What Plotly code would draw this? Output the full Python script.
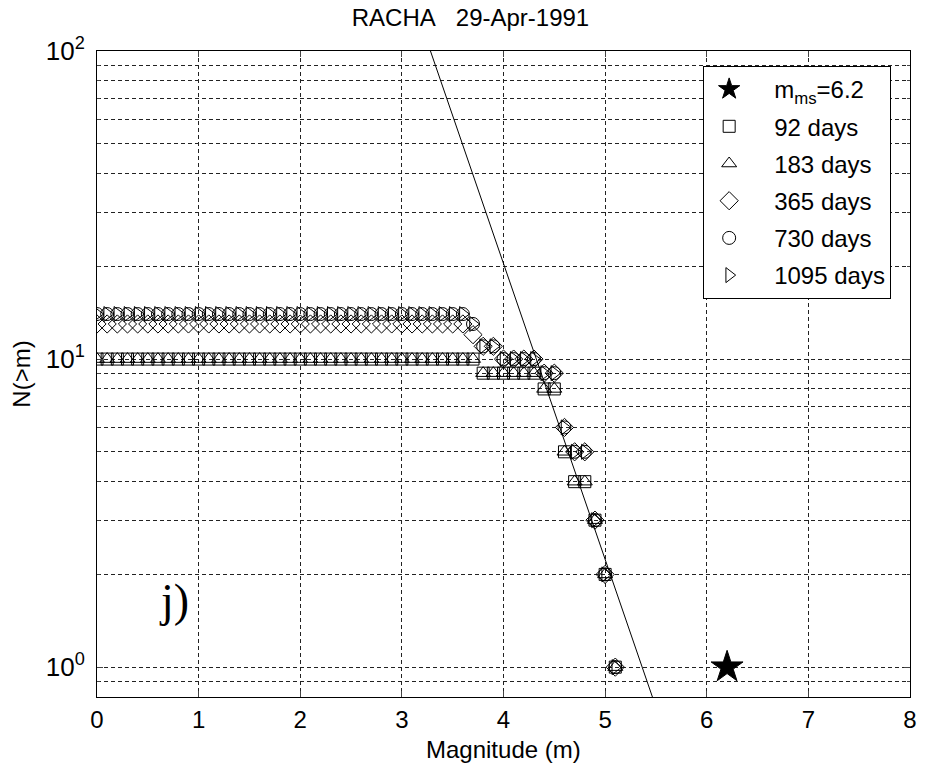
import math
import plotly.graph_objects as go

# ---------------- data ----------------
magnitude = [0.0, 0.1, 0.2, 0.3, 0.4, 0.5, 0.6, 0.7, 0.8, 0.9,
             1.0, 1.1, 1.2, 1.3, 1.4, 1.5, 1.6, 1.7, 1.8, 1.9,
             2.0, 2.1, 2.2, 2.3, 2.4, 2.5, 2.6, 2.7, 2.8, 2.9,
             3.0, 3.1, 3.2, 3.3, 3.4, 3.5, 3.6, 3.7, 3.8, 3.9,
             4.0, 4.1, 4.2, 4.3, 4.4, 4.5, 4.6, 4.7, 4.8, 4.9,
             5.0, 5.1]

n_92 = [10, 10, 10, 10, 10, 10, 10, 10, 10, 10,
        10, 10, 10, 10, 10, 10, 10, 10, 10, 10,
        10, 10, 10, 10, 10, 10, 10, 10, 10, 10,
        10, 10, 10, 10, 10, 10, 10, 10, 9, 9,
        9, 9, 9, 9, 8, 8, 5, 4, 4, 3,
        2, 1]

n_183 = [10, 10, 10, 10, 10, 10, 10, 10, 10, 10,
         10, 10, 10, 10, 10, 10, 10, 10, 10, 10,
         10, 10, 10, 10, 10, 10, 10, 10, 10, 10,
         10, 10, 10, 10, 10, 10, 10, 10, 9, 9,
         9, 9, 9, 9, 8, 8, 5, 4, 4, 3,
         2, 1]

n_365 = [13, 13, 13, 13, 13, 13, 13, 13, 13, 13,
         13, 13, 13, 13, 13, 13, 13, 13, 13, 13,
         13, 13, 13, 13, 13, 13, 13, 13, 13, 13,
         13, 13, 13, 13, 13, 13, 13, 12, 11, 11,
         10, 10, 10, 10, 9, 9, 6, 5, 5, 3,
         2, 1]

n_730 = [14, 14, 14, 14, 14, 14, 14, 14, 14, 14,
         14, 14, 14, 14, 14, 14, 14, 14, 14, 14,
         14, 14, 14, 14, 14, 14, 14, 14, 14, 14,
         14, 14, 14, 14, 14, 14, 14, 13, 11, 11,
         10, 10, 10, 10, 9, 9, 6, 5, 5, 3,
         2, 1]

n_1095 = [14, 14, 14, 14, 14, 14, 14, 14, 14, 14,
          14, 14, 14, 14, 14, 14, 14, 14, 14, 14,
          14, 14, 14, 14, 14, 14, 14, 14, 14, 14,
          14, 14, 14, 14, 14, 14, 14, 13, 11, 11,
          10, 10, 10, 10, 9, 9, 6, 5, 5, 3,
          2, 1]

mainshock_m = [6.2]
mainshock_n = [1]

# Gutenberg-Richter fit: log10 N = a - b m
gr_a = 5.15
gr_b = 0.96
fit_m = [3.0, 5.7]

x_ticks = [0, 1, 2, 3, 4, 5, 6, 7, 8]
y_major = [1, 10, 100]
y_major_text = ["10<sup>0</sup>", "10<sup>1</sup>", "10<sup>2</sup>"]
y_minor = [0.9, 2, 3, 4, 5, 6, 7, 8, 9, 20, 30, 40, 50, 60, 70, 80, 90]

legend_names = ["m<sub>ms</sub>=6.2", "92 days", "183 days", "365 days", "730 days", "1095 days"]

# ---------------- figure ----------------
FONT = "Liberation Sans, Arial, sans-serif"
fig = go.Figure()

fit_n = [10 ** (gr_a - gr_b * m) for m in fit_m]
fig.add_trace(go.Scatter(x=fit_m, y=fit_n, mode="lines",
                         line=dict(color="black", width=1),
                         showlegend=False, hoverinfo="skip"))

series = [
    (legend_names[0], mainshock_m, mainshock_n, "star", 24, "black"),
    (legend_names[1], magnitude, n_92, "square-open", 12, "black"),
    (legend_names[2], magnitude, n_183, "triangle-up-open", 13, "black"),
    (legend_names[3], magnitude, n_365, "diamond-open", 14, "black"),
    (legend_names[4], magnitude, n_730, "circle-open", 13, "black"),
    (legend_names[5], magnitude, n_1095, "triangle-right-open", 13, "black"),
]

PAD = "\u00a0\u00a0\u00a0"
for i, (name, xs, ys, sym, size, col) in enumerate(series):
    fig.add_trace(go.Scatter(
        x=xs, y=ys, mode="markers", name=PAD + name,
        marker=dict(symbol=sym, size=size, color=col,
                    line=dict(color="black", width=1)),
        legendrank=i + 1, legendgroup=name))

grid_dash = "4px,3px"
fig.update_layout(
    width=928, height=764, autosize=False,
    margin=dict(l=97, r=11, t=51, b=67),
    paper_bgcolor="white", plot_bgcolor="white",
    font=dict(family=FONT, size=24, color="black"),
    title=dict(text="RACHA\u00a0\u00a0\u00a029-Apr-1991", x=0.507, xanchor="center",
               y=1 - 18 / 764, yanchor="middle", font=dict(size=24)),
    xaxis=dict(range=[0, 8], tickvals=x_ticks, ticks="inside", ticklen=6,
               showline=True, linecolor="black", linewidth=1, mirror="allticks",
               showgrid=True, gridcolor="#222", gridwidth=1, griddash=grid_dash,
               zeroline=False, tickfont=dict(size=24), ticklabelstandoff=1),
    yaxis=dict(type="log", range=[math.log10(0.8), 2],
               tickvals=y_major, ticktext=y_major_text, ticks="inside", ticklen=6,
               showline=True, linecolor="black", linewidth=1, mirror="allticks",
               showgrid=True, gridcolor="#222", gridwidth=1, griddash=grid_dash,
               zeroline=False, tickfont=dict(size=26), ticklabelstandoff=6,
               minor=dict(tickvals=y_minor, ticks="inside", ticklen=3,
                          showgrid=True, gridcolor="#222", gridwidth=1,
                          griddash=grid_dash)),
    legend=dict(x=(898 - 97) / 820, xanchor="right", y=(697 - 66) / 646, yanchor="top",
                bgcolor="white", bordercolor="black", borderwidth=1,
                font=dict(size=24), traceorder="grouped", tracegroupgap=3,
                itemwidth=40),
    showlegend=True,
)

fig.add_annotation(text="Magnitude (m)", xref="paper", yref="paper",
                   x=0.5, y=-(749 - 697) / 646, xanchor="center", yanchor="middle",
                   showarrow=False, font=dict(size=24))
fig.add_annotation(text="N(>m)", xref="paper", yref="paper",
                   x=-(97 - 20) / 820, y=0.5, xanchor="center", yanchor="middle",
                   textangle=-90, showarrow=False, font=dict(size=24))
fig.add_annotation(text="j)", xref="paper", yref="paper",
                   x=(175 - 97) / 820, y=(697 - 600) / 646, xanchor="center",
                   yanchor="middle", showarrow=False,
                   font=dict(family="Liberation Serif, Times New Roman, serif", size=46))

fig.write_html("out.html")
